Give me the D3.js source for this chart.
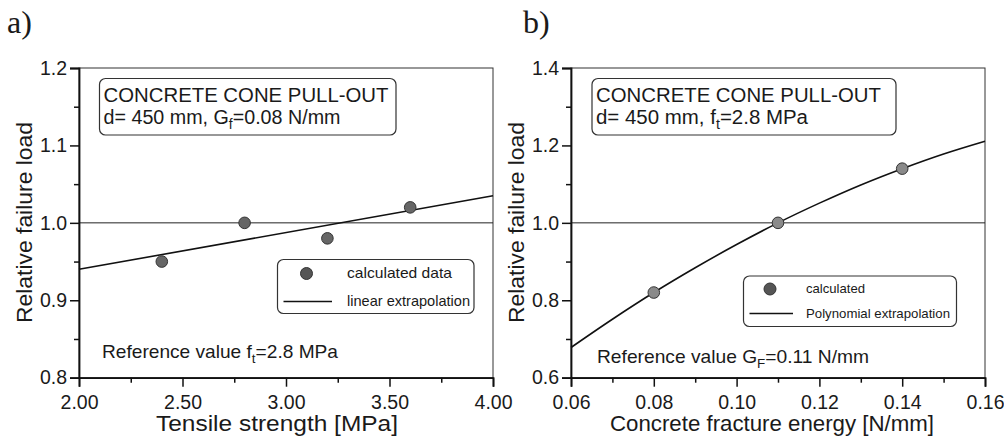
<!DOCTYPE html>
<html>
<head>
<meta charset="utf-8">
<script src="https://cdn.jsdelivr.net/npm/d3@7"></script>
<style>
  html, body { margin: 0; padding: 0; background: #fff; }
  svg { display: block; font-family: "Liberation Sans", Arial, sans-serif; }
  text { fill: #1a1a1a; }
</style>
</head>
<body>
<svg id="chart" width="1004" height="437"></svg>
<script>
// panel a: tensile strength
const aStrength = [2.4, 2.8, 3.2, 3.6];
const aLoad = [0.95, 1.0, 0.98, 1.02];
const aFitX = [2.0, 4.0];
const aFitY = [0.94, 1.035];
const aXTicks = ["2.00", "2.50", "3.00", "3.50", "4.00"];
const aYTicks = ["0.8", "0.9", "1.0", "1.1", "1.2"];
const aXMinor = [2.25, 2.75, 3.25, 3.75];
const aYMinor = [0.85, 0.95, 1.05, 1.15];

// panel b: fracture energy
const bEnergy = [0.08, 0.11, 0.14];
const bLoad = [0.82, 1.0, 1.14];
const bFitX = [0.06, 0.07, 0.08, 0.09, 0.10, 0.11, 0.12, 0.13, 0.14, 0.15, 0.16];
const bFitY = [0.678, 0.751, 0.82, 0.884, 0.944, 1.0, 1.051, 1.098, 1.14, 1.178, 1.211];
const bXTicks = ["0.06", "0.08", "0.10", "0.12", "0.14", "0.16"];
const bYTicks = ["0.6", "0.8", "1.0", "1.2", "1.4"];
const bXMinor = [0.07, 0.09, 0.11, 0.13, 0.15];
const bYMinor = [0.7, 0.9, 1.1, 1.3];

const svg = d3.select("#chart");

function addText(g, x, y, parts, size, len, opts = {}) {
  const t = g.append("text")
    .attr("x", x).attr("y", y)
    .attr("font-size", size);
  if (len) t.attr("textLength", len).attr("lengthAdjust", "spacingAndGlyphs");
  if (opts.anchor) t.attr("text-anchor", opts.anchor);
  if (opts.transform) t.attr("transform", opts.transform);
  let shift = 0;
  parts.forEach(p => {
    if (typeof p === "string") {
      const s = t.append("tspan").text(p);
      if (shift) { s.attr("dy", -shift); shift = 0; }
    } else {
      shift = Math.round(size * 0.25);
      t.append("tspan").attr("dy", shift).attr("font-size", size * 0.7).text(p.sub);
    }
  });
  return t;
}

function drawPanel(p) {
  const g = svg.append("g");
  const x = d3.scaleLinear().domain(p.xDomain).range([p.left, p.right]);
  const y = d3.scaleLinear().domain(p.yDomain).range([p.bottom, p.top]);

  // frame
  g.append("rect")
    .attr("x", p.left).attr("y", p.top)
    .attr("width", p.right - p.left).attr("height", p.bottom - p.top)
    .attr("fill", "none").attr("stroke", "#333").attr("stroke-width", 1);

  // reference line at 1.0
  g.append("line")
    .attr("x1", x(p.xDomain[0])).attr("x2", x(p.xDomain[1]))
    .attr("y1", y(1.0)).attr("y2", y(1.0))
    .attr("stroke", "#222").attr("stroke-width", 1);

  // axes
  const xAxis = g.append("g")
    .attr("transform", `translate(0,${p.bottom})`)
    .call(d3.axisBottom(x)
      .tickValues(p.xTicks.map(Number))
      .tickFormat((d, i) => p.xTicks[i])
      .tickSize(9).tickPadding(8));
  g.append("g")
    .attr("transform", `translate(0,${p.bottom})`)
    .call(d3.axisBottom(x).tickValues(p.xMinor).tickFormat("").tickSize(5))
    .select(".domain").remove();
  const yAxis = g.append("g")
    .attr("transform", `translate(${p.left},0)`)
    .call(d3.axisLeft(y)
      .tickValues(p.yTicks.map(Number))
      .tickFormat((d, i) => p.yTicks[i])
      .tickSize(9).tickPadding(3));
  g.append("g")
    .attr("transform", `translate(${p.left},0)`)
    .call(d3.axisLeft(y).tickValues(p.yMinor).tickFormat("").tickSize(5))
    .select(".domain").remove();

  g.selectAll(".domain").attr("stroke", "#111").attr("stroke-width", 1.8);
  g.selectAll(".tick line").attr("stroke", "#111").attr("stroke-width", 1.5);
  [xAxis, yAxis].forEach(ax => ax.selectAll(".tick text")
    .attr("font-size", 19.5).attr("fill", "#1a1a1a")
    .attr("font-family", "Liberation Sans, Arial, sans-serif"));

  // fitted line
  const fit = p.fitX.map((d, i) => [d, p.fitY[i]]);
  g.append("path")
    .datum(fit)
    .attr("fill", "none").attr("stroke", "#111").attr("stroke-width", 1.6)
    .attr("d", d3.line().x(d => x(d[0])).y(d => y(d[1])).curve(d3.curveMonotoneX));

  // calculated points
  g.selectAll(".pt")
    .data(p.ptX.map((d, i) => [d, p.ptY[i]]))
    .enter().append("circle")
    .attr("class", "pt")
    .attr("cx", d => x(d[0])).attr("cy", d => y(d[1]))
    .attr("r", 5.8)
    .attr("fill", p.ptFill).attr("stroke", "#333").attr("stroke-width", 1);

  // info box
  g.append("rect")
    .attr("x", p.box[0]).attr("y", p.box[1])
    .attr("width", p.box[2]).attr("height", p.box[3])
    .attr("rx", 6)
    .attr("fill", "#fff").attr("stroke", "#333").attr("stroke-width", 1.2);
  addText(g, p.box[0] + 4, p.box[1] + 23, ["CONCRETE CONE PULL-OUT"], 20, 285);
  addText(g, p.box[0] + 4, p.box[1] + 45, p.line2, 20, p.line2Len);

  // legend
  const lg = p.legend;
  g.append("rect")
    .attr("x", lg.x).attr("y", lg.y).attr("width", lg.w).attr("height", lg.h)
    .attr("rx", 6)
    .attr("fill", "#fff").attr("stroke", "#333").attr("stroke-width", 1.2);
  g.append("circle")
    .attr("cx", lg.mx).attr("cy", lg.y + lg.row1)
    .attr("r", 6)
    .attr("fill", "#555").attr("stroke", "#333").attr("stroke-width", 1);
  g.append("line")
    .attr("x1", lg.x + 6).attr("x2", lg.lineEnd)
    .attr("y1", lg.y + lg.row2).attr("y2", lg.y + lg.row2)
    .attr("stroke", "#111").attr("stroke-width", 1.4);
  addText(g, lg.tx, lg.y + lg.row1 + 4, [lg.label1], lg.size, lg.len1);
  addText(g, lg.tx, lg.y + lg.row2 + 4, [lg.label2], lg.size, lg.len2);

  // reference value note
  addText(g, p.note[0], p.note[1], p.noteParts, 19, p.noteLen);

  // axis titles
  addText(g, p.xTitlePos[0], 431, [p.xTitle], 21.5, p.xTitleLen, { anchor: "middle" });
  addText(g, 0, 0, ["Relative failure load"], 22, 201, {
    anchor: "middle",
    transform: `translate(${p.yTitleX},222.5) rotate(-90)`
  });

  // panel letter
  g.append("text")
    .attr("x", p.letter[0]).attr("y", 33)
    .attr("font-family", "Liberation Serif, 'Times New Roman', serif")
    .attr("font-size", 32)
    .text(p.letter[1]);
}

drawPanel({
  left: 79, right: 493, top: 68, bottom: 377.7,
  xDomain: [2.0, 4.0], yDomain: [0.8, 1.2],
  xTicks: aXTicks, yTicks: aYTicks, xMinor: aXMinor, yMinor: aYMinor,
  fitX: aFitX, fitY: aFitY, ptX: aStrength, ptY: aLoad, ptFill: "#666",
  box: [99.5, 78.5, 296.5, 56.5],
  line2: ["d= 450 mm, G", { sub: "f" }, "=0.08 N/mm"], line2Len: 237,
  legend: { x: 277.5, y: 259.5, w: 196.5, h: 54, mx: 306.5, row1: 14, row2: 42, lineEnd: 332,
            tx: 347, label1: "calculated data", label2: "linear extrapolation",
            size: 15, len1: 105, len2: 123 },
  note: [102, 357.7], noteParts: ["Reference value f", { sub: "t" }, "=2.8 MPa"], noteLen: 236,
  xTitle: "Tensile strength [MPa]", xTitlePos: [277], xTitleLen: 242,
  yTitleX: 32,
  letter: [7, "a)"]
});

drawPanel({
  left: 571, right: 985, top: 68, bottom: 377.7,
  xDomain: [0.06, 0.16], yDomain: [0.6, 1.4],
  xTicks: bXTicks, yTicks: bYTicks, xMinor: bXMinor, yMinor: bYMinor,
  fitX: bFitX, fitY: bFitY, ptX: bEnergy, ptY: bLoad, ptFill: "#8a8a8a",
  box: [592, 78.5, 304, 56.5],
  line2: ["d= 450 mm, f", { sub: "t" }, "=2.8 MPa"], line2Len: 212,
  legend: { x: 743.5, y: 276, w: 213, h: 50.5, mx: 770, row1: 13, row2: 37.5, lineEnd: 793,
            tx: 806, label1: "calculated", label2: "Polynomial extrapolation",
            size: 13, len1: 59, len2: 144 },
  note: [597, 363.3], noteParts: ["Reference value G", { sub: "F" }, "=0.11 N/mm"], noteLen: 272,
  xTitle: "Concrete fracture energy [N/mm]", xTitlePos: [772], xTitleLen: 324,
  yTitleX: 524,
  letter: [523, "b)"]
});
</script>
</body>
</html>
